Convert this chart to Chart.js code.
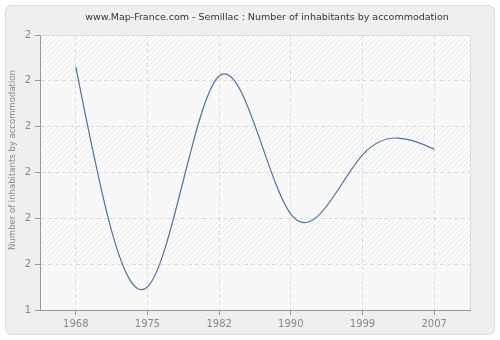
<!DOCTYPE html>
<html lang="en">

<head>
    <meta charset="UTF-8">
    <title>Semillac - Number of inhabitants by accommodation</title>
    <script src="https://cdn.jsdelivr.net/npm/chart.js"></script>
    <style>
        body { margin: 0; background: #ffffff; }
        .chart-box { width: 500px; height: 340px; }
    </style>
</head>

<body>
    <div class="chart-box">
        <canvas id="graficoHabitantes" width="500" height="340"></canvas>
    </div>
</body>

</html>

<script>
    const anos = ['1968', '1975', '1982', '1990', '1999', '2007'];
    const habitantes = [1.884, 1.084, 1.851, 1.349, 1.564, 1.585];
    const yTicks = [1, 7 / 6, 8 / 6, 9 / 6, 10 / 6, 11 / 6, 2];
    const yTickLabels = ['1', '2', '2', '2', '2', '2', '2'];

    const titulo = 'www.Map-France.com - Semillac : Number of inhabitants by accommodation';
    const tituloY = 'Number of inhabitants by accommodation';

    function criarHachura(ctx) {
        const c = document.createElement('canvas');
        c.width = 5;
        c.height = 5;
        const p = c.getContext('2d');
        p.fillStyle = '#ffffff';
        p.fillRect(0, 0, 5, 5);
        p.fillStyle = '#e6e6e6';
        for (let i = 0; i < 5; i++) {
            p.fillRect(i, 4 - i, 1, 1);
        }
        return ctx.createPattern(c, 'repeat');
    }

    // spline natural: so troca os pontos de controle que o Chart.js ja usa
    const splinePlugin = {
        id: 'splineNatural',
        beforeDatasetDraw(chart, args) {
            const line = args.meta.dataset;
            const pts = args.meta.data;
            const n = pts.length - 1;
            if (n < 2) return;
            line.updateControlPoints(chart.chartArea, 'x');

            const h = [];
            for (let i = 0; i < n; i++) h.push(pts[i + 1].x - pts[i].x);

            const a = [], b = [], c = [], d = [];
            for (let i = 1; i < n; i++) {
                a.push(h[i - 1]);
                b.push(2 * (h[i - 1] + h[i]));
                c.push(h[i]);
                d.push(6 * ((pts[i + 1].y - pts[i].y) / h[i] - (pts[i].y - pts[i - 1].y) / h[i - 1]));
            }
            // thomas
            const m = d.length;
            for (let i = 1; i < m; i++) {
                const w = a[i] / b[i - 1];
                b[i] -= w * c[i - 1];
                d[i] -= w * d[i - 1];
            }
            const M = new Array(n + 1).fill(0);
            for (let i = m - 1; i >= 0; i--) {
                const prox = (i === m - 1) ? 0 : M[i + 2];
                M[i + 1] = (d[i] - c[i] * prox) / b[i];
            }

            for (let i = 0; i <= n; i++) {
                let s;
                if (i < n) {
                    s = (pts[i + 1].y - pts[i].y) / h[i] - h[i] * (2 * M[i] + M[i + 1]) / 6;
                } else {
                    s = (pts[n].y - pts[n - 1].y) / h[n - 1] + h[n - 1] * (M[n - 1] + 2 * M[n]) / 6;
                }
                const p = pts[i];
                if (i > 0) {
                    p.cp1x = p.x - h[i - 1] / 3;
                    p.cp1y = p.y - s * h[i - 1] / 3;
                }
                if (i < n) {
                    p.cp2x = p.x + h[i] / 3;
                    p.cp2y = p.y + s * h[i] / 3;
                }
            }
            line._path = undefined;
        }
    };

    // fundo do cartao, faixas e titulos
    const fundoPlugin = {
        id: 'fundo',
        beforeDraw(chart) {
            const ctx = chart.ctx;
            const area = chart.chartArea;
            const y = chart.scales.y;
            ctx.save();
            ctx.fillStyle = '#ffffff';
            ctx.fillRect(0, 0, chart.width, chart.height);
            ctx.beginPath();
            ctx.roundRect(5.5, 5.5, 489, 329, 6);
            ctx.fillStyle = '#efefef';
            ctx.fill();
            ctx.strokeStyle = '#dcdcdc';
            ctx.lineWidth = 1;
            ctx.stroke();

            const hachura = criarHachura(ctx);
            for (let i = 0; i < yTicks.length - 1; i++) {
                const yBaixo = y.getPixelForValue(yTicks[i]);
                const yCima = y.getPixelForValue(yTicks[i + 1]);
                ctx.fillStyle = (i % 2 === 0) ? '#f8f8f8' : hachura;
                ctx.fillRect(area.left, yCima, area.right - area.left, yBaixo - yCima);
            }

            ctx.strokeStyle = '#dddddd';
            ctx.beginPath();
            ctx.moveTo(area.left, area.top + 0.5);
            ctx.lineTo(area.right + 0.5, area.top + 0.5);
            ctx.lineTo(area.right + 0.5, area.bottom);
            ctx.stroke();

            ctx.fillStyle = '#333333';
            ctx.font = '9.5px "DejaVu Sans"';
            ctx.textAlign = 'center';
            ctx.textBaseline = 'middle';
            ctx.fillText(titulo, 267, 18);

            ctx.translate(13, 160);
            ctx.rotate(-Math.PI / 2);
            ctx.fillStyle = '#888888';
            ctx.font = '8.5px "DejaVu Sans"';
            ctx.fillText(tituloY, 0, 0);
            ctx.restore();
        }
    };

    Chart.defaults.font.family = '"DejaVu Sans", sans-serif';
    Chart.defaults.font.size = 10;

    const ctx = document.getElementById('graficoHabitantes').getContext('2d');
    const graficoHabitantes = new Chart(ctx, {
        type: 'line',
        data: {
            labels: anos,
            datasets: [
                {
                    label: 'Number of inhabitants by accommodation',
                    data: habitantes,
                    borderColor: '#4a74aa',
                    borderWidth: 1.2,
                    pointRadius: 0,
                    fill: false,
                    tension: 0.4
                }
            ]
        },
        options: {
            responsive: false,
            animation: false,
            layout: {
                padding: { top: 35, right: 30, left: 0, bottom: 0 }
            },
            plugins: {
                legend: { display: false },
                title: { display: false },
                tooltip: { enabled: false }
            },
            scales: {
                x: {
                    offset: true,
                    afterFit: s => { s.height = 30; },
                    grid: {
                        offset: false,
                        color: '#dddddd',
                        tickColor: '#999999',
                        tickBorderDash: [],
                        tickLength: 5
                    },
                    border: { color: '#999999', dash: [4, 3] },
                    ticks: {
                        color: '#888888',
                        padding: 3,
                        maxRotation: 0
                    }
                },
                y: {
                    min: 1,
                    max: 2,
                    afterFit: s => { s.width = 40; },
                    afterBuildTicks: s => { s.ticks = yTicks.map(v => ({ value: v })); },
                    grid: {
                        color: c => (c.index === 0 || c.index === yTicks.length - 1) ? 'rgba(0,0,0,0)' : '#dddddd',
                        tickColor: '#999999',
                        tickBorderDash: [],
                        tickLength: 5
                    },
                    border: { color: '#999999', dash: [4, 3] },
                    ticks: {
                        color: '#888888',
                        padding: 4,
                        callback: (v, i) => yTickLabels[i]
                    }
                }
            }
        },
        plugins: [fundoPlugin, splinePlugin]
    });
</script>
